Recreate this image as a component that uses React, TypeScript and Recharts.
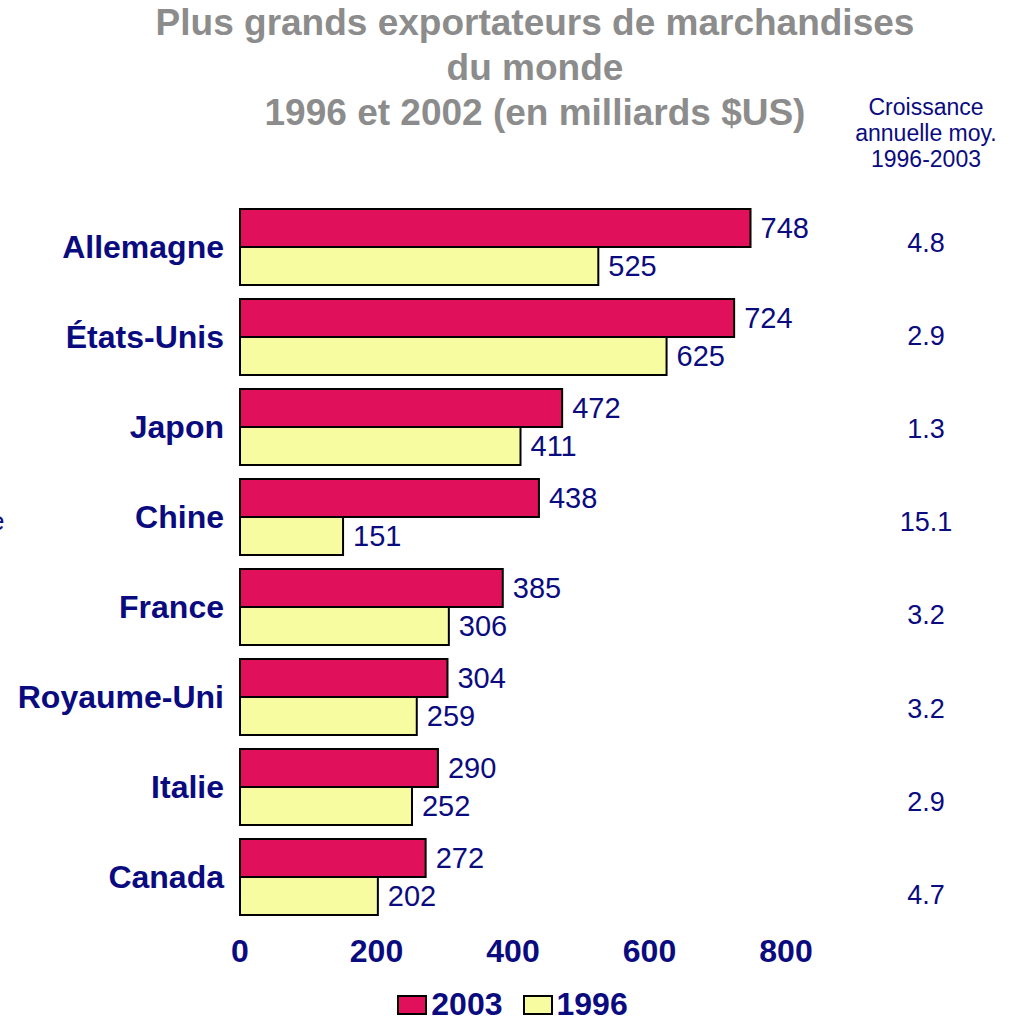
import {Bar, BarChart, LabelList, Legend, XAxis, YAxis} from "recharts";

const countries = ["Allemagne", "États-Unis", "Japon", "Chine", "France", "Royaume-Uni", "Italie", "Canada"];
const exports2003 = [748, 724, 472, 438, 385, 304, 290, 272];
const exports1996 = [525, 625, 411, 151, 306, 259, 252, 202];
const growth = ["4.8", "2.9", "1.3", "15.1", "3.2", "3.2", "2.9", "4.7"];
const xTicks = [0, 200, 400, 600, 800];

const NAVY = "#0b0b80";
const FONT = "'Liberation Sans', Arial, sans-serif";

const data = countries.map((country, i) => ({
  country,
  y2003: exports2003[i],
  y1996: exports1996[i],
}));

// growth column sits in its own text box, spaced a little wider than the bars
function GrowthTick(props: any) {
  const {y, payload} = props;
  const idx = countries.indexOf(payload.value);
  return (
    <text x={926} y={y} dy={9 + idx * 3.1 - 4} textAnchor="middle" fill={NAVY} fontSize={27} fontFamily={FONT}>
      {growth[idx]}
    </text>
  );
}

function LegendBox() {
  const items = [
    {label: "2003", color: "#e0105a"},
    {label: "1996", color: "#f8fca0"},
  ];
  return (
    <div style={{display: "flex", justifyContent: "center", gap: 20, paddingLeft: 14, paddingTop: 17}}>
      {items.map(item => (
        <div key={item.label} style={{display: "flex", alignItems: "center"}}>
          <span style={{width: 26, height: 16, background: item.color, border: "2px solid #000", display: "inline-block", marginRight: 4, marginTop: 2}}/>
          <span style={{fontFamily: FONT, fontWeight: "bold", fontSize: 32, lineHeight: "30px", color: NAVY}}>{item.label}</span>
        </div>
      ))}
    </div>
  );
}

export default function App() {
  return (
    <div style={{position: "relative", width: 1011, height: 1021, background: "#fff", overflow: "hidden"}}>
      <style>{"body{margin:0}"}</style>
      <div style={{position: "absolute", top: 0, left: 0, width: 1070, textAlign: "center", fontFamily: FONT, fontWeight: "bold", fontSize: 37, lineHeight: "45px", color: "#8c8c8c"}}>
        Plus grands exportateurs de marchandises<br/>du monde<br/>1996 et 2002 (en milliards $US)
      </div>
      <div style={{position: "absolute", top: 94, left: 826, width: 200, textAlign: "center", fontFamily: FONT, fontSize: 23, lineHeight: "26px", color: NAVY}}>
        Croissance<br/>annuelle moy.<br/>1996-2003
      </div>
      <div style={{position: "absolute", top: 506, left: -10, fontFamily: FONT, fontSize: 26, color: NAVY}}>e</div>
      <div style={{position: "absolute", top: 0, left: 0}}>
        <BarChart
          width={1011}
          height={1021}
          data={data}
          layout="vertical"
          margin={{top: 202, right: 0, left: 0, bottom: 0}}
          barSize={38}
          barGap={0}
        >
          <XAxis
            type="number"
            domain={[0, 800]}
            ticks={xTicks}
            axisLine={false}
            tickLine={false}
            tickSize={0}
            tickMargin={17}
            height={50}
            tick={{fill: NAVY, fontSize: 32, fontWeight: "bold", fontFamily: FONT}}
          />
          <YAxis
            yAxisId="left"
            type="category"
            dataKey="country"
            width={240}
            axisLine={false}
            tickLine={false}
            tickSize={0}
            tickMargin={16}
            tick={{fill: NAVY, fontSize: 32, fontWeight: "bold", fontFamily: FONT}}
          />
          <YAxis
            yAxisId="right"
            orientation="right"
            type="category"
            dataKey="country"
            width={225}
            axisLine={false}
            tickLine={false}
            tick={<GrowthTick/>}
          />
          <Legend verticalAlign="bottom" height={49} content={<LegendBox/>}/>
          <Bar yAxisId="left" dataKey="y2003" name="2003" fill="#e0105a" stroke="#000" strokeWidth={2} isAnimationActive={false}>
            <LabelList dataKey="y2003" position="right" offset={10} fill={NAVY} fontSize={29} fontFamily={FONT}/>
          </Bar>
          <Bar yAxisId="left" dataKey="y1996" name="1996" fill="#f8fca0" stroke="#000" strokeWidth={2} isAnimationActive={false}>
            <LabelList dataKey="y1996" position="right" offset={10} fill={NAVY} fontSize={29} fontFamily={FONT}/>
          </Bar>
        </BarChart>
      </div>
    </div>
  );
}
